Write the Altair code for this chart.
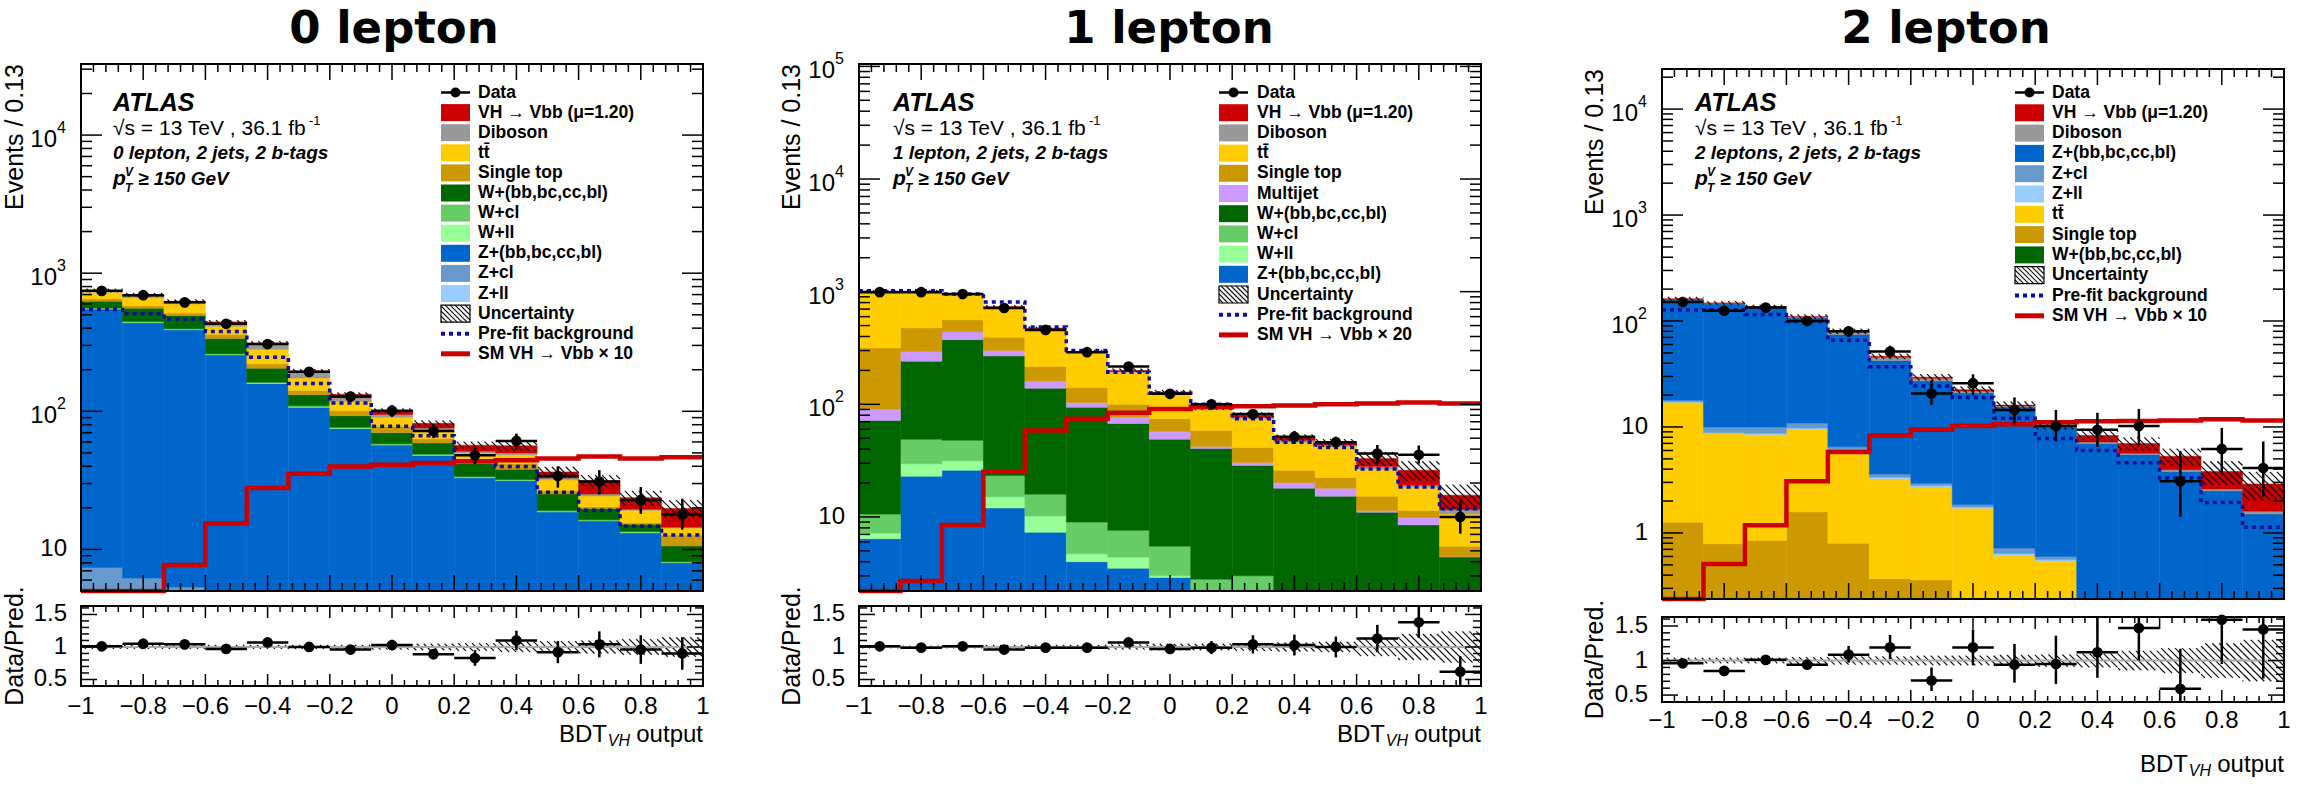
import math
import altair as alt
import pandas as pd

FONT = "Liberation Sans"
TITLE_FONT = "DejaVu Sans"
NB = 15
BIN_EDGES = [-1 + 2 * k / NB for k in range(NB + 1)]
BIN_CENTERS = [(BIN_EDGES[i] + BIN_EDGES[i + 1]) / 2 for i in range(NB)]

XTICK_VALUES = [-1, -0.8, -0.6, -0.4, -0.2, 0, 0.2, 0.4, 0.6, 0.8, 1]
XTICK_LABELS = ["\u22121", "\u22120.8", "\u22120.6", "\u22120.4", "\u22120.2", "0", "0.2", "0.4", "0.6", "0.8", "1"]
XTICK_MINOR = [round(-1 + 0.04 * k, 4) for k in range(51) if k % 5 != 0]
RATIO_TICKS = [0.5, 1, 1.5]
RATIO_LABELS = ["0.5", "1", "1.5"]
RATIO_MINOR = [0.6, 0.7, 0.8, 0.9, 1.1, 1.2, 1.3, 1.4, 1.6]
RMIN, RMAX = 0.4, 1.63

COLORS = {
    "VH": "#cc0000", "Diboson": "#999999", "ttbar": "#ffcc00", "Single top": "#cc9900",
    "Multijet": "#cc99ff", "Whf": "#006600", "Wcl": "#66cc66", "Wll": "#99ff99",
    "Zhf": "#0066cc", "Zcl": "#6699cc", "Zll": "#99ccff",
}
LABELS = {
    "VH": "VH \u2192 Vbb (\u03bc=1.20)", "Diboson": "Diboson", "ttbar": "tt\u0304",
    "Single top": "Single top", "Multijet": "Multijet", "Whf": "W+(bb,bc,cc,bl)",
    "Wcl": "W+cl", "Wll": "W+ll", "Zhf": "Z+(bb,bc,cc,bl)", "Zcl": "Z+cl", "Zll": "Z+ll",
}
NAVY = "#0d0d9e"
RED = "#cc0000"

# ---------------- 0 lepton (cumulative stack tops, bottom -> top) ----------------
L0_ZLL = [1.2, 1.1, 1.0, 0.9, 0.8, 0.7, 0.6, 0.5, 0.5, 0.4, 0.4, 0.3, 0.3, 0.2, 0.2]
L0_ZCL = [7.4, 6.2, 5.35, 4.5, 4.0, 3.5, 3.0, 2.5, 2.0, 1.8, 1.6, 1.4, 1.2, 1.1, 1.0]
L0_ZHF = [550, 438, 389, 256, 159, 107, 75, 57, 48, 33, 31.5, 18.7, 16.1, 13.2, 8.0]
L0_WLL = [554, 441, 392, 258, 160, 108, 75.6, 57.4, 48.3, 33.2, 31.7, 18.8, 16.2, 13.3, 8.05]
L0_WCL = [560, 446, 396, 261, 162.5, 109.5, 76.6, 58.2, 49, 33.7, 32.1, 19.1, 16.4, 13.5, 8.15]
L0_WHF = [627, 557, 494, 336, 205, 132, 93, 70, 59, 41.8, 38, 25.2, 19.8, 15.2, 10.6]
L0_STOP = [653, 580, 515, 362, 221, 141.5, 100.7, 78, 63.3, 44.3, 41.8, 26.7, 20.4, 15.6, 12.7]
L0_TTBAR = [728, 665, 601, 413, 281, 174, 118, 90.6, 71.3, 49.9, 48.5, 31.9, 24.4, 19.2, 14.3]
L0_DIBOSON = [741, 686, 616, 431, 307, 190.5, 125.6, 94.9, 75.7, 51.4, 49.9, 32.9, 25.2, 19.5, 14.5]
L0_VH = [750, 698, 627, 444, 312, 196, 133, 101, 81.8, 56.9, 56.2, 36.4, 31.4, 23.7, 19.8]
L0_PREFIT = [547, 509, 466, 378, 246, 159, 115, 78, 66.4, 43.7, 39.8, 25.9, 19.2, 14.7, 12.7]
L0_SMVH = [5.0, 5.0, 7.7, 15.4, 27.8, 35.3, 39.8, 41, 42.3, 43.5, 44.3, 45.6, 47, 45.6, 46.4]
L0_DATA = [745, 693, 615, 430, 307, 193, 128, 101, 72, 48, 61, 34, 31, 22.8, 17.9]
L0_DATA_LO = [718, 667, 590, 409, 290, 179, 117, 91, 64, 41.5, 53, 28, 25, 18.1, 13.9]
L0_DATA_HI = [772, 719, 640, 451, 324, 207, 139, 111, 80.5, 55, 69, 40, 37.5, 28.3, 23.3]
L0_RATIO = [1.01, 1.05, 1.04, 0.97, 1.07, 1.0, 0.96, 1.03, 0.89, 0.83, 1.10, 0.92, 1.04, 0.96, 0.90]
L0_RATIO_ERR = [0.03, 0.03, 0.03, 0.04, 0.05, 0.06, 0.07, 0.08, 0.08, 0.12, 0.15, 0.17, 0.2, 0.22, 0.25]
L0_UNC = [0.03, 0.03, 0.03, 0.03, 0.03, 0.03, 0.03, 0.04, 0.05, 0.06, 0.08, 0.09, 0.1, 0.12, 0.15]

# ---------------- 1 lepton ----------------
L1_ZHF = [6.4, 23, 26, 12, 7.3, 4.0, 3.5, 2.9, 2.0, 1.5, 1.2, 1.0, 0.8, 0.6, 0.5]
L1_WLL = [7.2, 29.7, 31.5, 15.1, 10.2, 4.7, 4.4, 3.0, 2.1, 1.6, 1.3, 1.1, 0.9, 0.7, 0.6]
L1_WCL = [10.6, 49, 47.9, 23.3, 15.9, 9.0, 7.6, 5.5, 2.8, 3.0, 1.5, 1.3, 1.1, 0.9, 0.8]
L1_WHF = [71.8, 241, 375, 269, 139, 94, 67.6, 49, 40.5, 28.6, 18, 15.3, 11, 8.5, 4.4]
L1_MULTIJET = [90.8, 294, 441, 301, 161, 104, 77, 57.5, 42.3, 30.4, 20.2, 18, 11.4, 9.9, 4.45]
L1_STOP = [316, 477, 561, 394, 216, 141, 100, 74.5, 58.4, 41.3, 26, 22.4, 15.3, 11.4, 5.5]
L1_TTBAR = [1000, 1000, 935, 726, 467, 290, 193, 124, 89.3, 74.5, 46.1, 42.3, 26.6, 18.4, 10.6]
L1_DIBOSON = [1005, 1005, 940, 730, 470, 292, 196, 126, 91, 77, 48, 43.5, 28, 19.2, 11.6]
L1_VH = [1010, 1010, 945, 735, 475, 295, 200, 128, 94, 80, 50.4, 45.5, 33.1, 26, 15.6]
L1_PREFIT = [1020, 1020, 953, 811, 485, 301, 193, 126, 100, 74.5, 46.1, 41.3, 26.6, 18.4, 11.8]
L1_SMVH = [2.2, 2.7, 8.5, 25.2, 58.4, 74.5, 84.3, 90.8, 94.9, 96.2, 97.6, 100, 101.6, 104, 101.6]
L1_DATA = [989, 989, 953, 716, 457, 290, 216, 124, 100, 81.8, 51.5, 46.1, 36.5, 35.6, 10.0]
L1_DATA_LO = [958, 958, 922, 690, 436, 273, 201, 113, 90, 73, 44.5, 40.5, 29.7, 29.7, 7.1]
L1_DATA_HI = [1020, 1020, 984, 743, 479, 307, 231, 135, 110, 91, 58, 51.5, 43.5, 43, 14.4]
L1_RATIO = [1.01, 0.99, 1.01, 0.96, 0.99, 0.99, 1.07, 0.97, 0.99, 1.04, 1.03, 1.0, 1.13, 1.38, 0.62]
L1_RATIO_ERR = [0.03, 0.03, 0.03, 0.03, 0.04, 0.05, 0.07, 0.07, 0.1, 0.14, 0.16, 0.16, 0.21, 0.24, 0.24]
L1_UNC = [0.02, 0.02, 0.02, 0.03, 0.03, 0.03, 0.04, 0.05, 0.05, 0.06, 0.07, 0.08, 0.14, 0.2, 0.24]

# ---------------- 2 lepton ----------------
L2_WHF = [0.02, 0.02, 0.02, 0.02, 0.02, 0.02, 0.02, 0.02, 0.02, 0.02, 0.02, 0.02, 0.02, 0.02, 0.02]
L2_STOP = [1.26, 0.79, 0.85, 1.58, 0.8, 0.37, 0.36, 0.2, 0.15, 0.1, 0.05, 0.05, 0.04, 0.03, 0.025]
L2_TTBAR = [17.1, 8.65, 8.5, 9.55, 5.6, 3.25, 2.7, 1.71, 0.61, 0.54, 0.1, 0.1, 0.06, 0.05, 0.04]
L2_ZLL = [17.3, 8.8, 8.7, 9.8, 5.8, 3.35, 2.8, 1.76, 0.64, 0.56, 0.12, 0.12, 0.08, 0.06, 0.05]
L2_ZCL = [17.9, 10, 10, 10.9, 6.5, 3.6, 2.94, 1.86, 0.72, 0.6, 0.15, 0.15, 0.1, 0.08, 0.06]
L2_ZHF = [158, 145, 134, 107, 74.8, 42.5, 27.2, 21, 15.5, 10, 7.0, 5.5, 3.8, 2.5, 1.51]
L2_DIBOSON = [160, 147, 136, 109, 79, 45.5, 28.8, 21.8, 15.8, 10.2, 7.2, 5.65, 3.95, 2.6, 1.6]
L2_VH = [162, 148, 137, 110, 80, 46.5, 29.5, 22.5, 16.1, 10.4, 8.3, 7.0, 5.3, 3.8, 2.9]
L2_PREFIT = [127, 128, 115, 99, 66, 37, 24.4, 19, 12.1, 7.8, 6.0, 4.6, 3.3, 1.94, 1.13]
L2_SMVH = [0.238, 0.51, 1.18, 3.07, 5.8, 8.3, 9.4, 10.2, 10.6, 11.1, 11.3, 11.4, 11.5, 11.8, 11.5]
L2_DATA = [151, 125, 134, 100, 80, 51.5, 20.7, 25.9, 14.5, 10.2, 9.4, 10.2, 3.07, 6.2, 4.1]
L2_DATA_LO = [139, 114, 122.5, 90, 71, 44.5, 16.1, 19.8, 10.6, 7.3, 6.5, 6.7, 1.42, 3.6, 2.2]
L2_DATA_HI = [163, 136, 145.5, 110, 89, 58.5, 27.5, 31.4, 19, 14.5, 13.6, 14.8, 5.9, 9.8, 7.3]
L2_RATIO = [0.96, 0.85, 1.01, 0.94, 1.085, 1.19, 0.71, 1.19, 0.94, 0.95, 1.12, 1.47, 0.59, 1.59, 1.45]
L2_RATIO_LO = [0.92, 0.81, 0.97, 0.89, 0.97, 1.02, 0.56, 0.93, 0.68, 0.66, 0.75, 1.0, 0.3, 0.95, 0.74]
L2_RATIO_HI = [1.01, 0.89, 1.06, 0.99, 1.21, 1.37, 0.90, 1.45, 1.24, 1.36, 1.65, 1.75, 1.17, 1.9, 1.67]
L2_UNC = [0.04, 0.04, 0.04, 0.05, 0.06, 0.06, 0.07, 0.07, 0.08, 0.09, 0.1, 0.14, 0.18, 0.25, 0.3]

PW = 622
ONE = pd.DataFrame({"a": [0]})

CFGS = [
    dict(
        title="0 lepton", title_cx=394, chan="0 lepton, 2 jets, 2 b-tags",
        ox=81, oy=64, H=527, ry=606, h=80, lab_dy=21, xt_dy=49, ytitle_dx=-78,
        ymin=5.0, ymax=3.27e4,
        stack=[("Zll", L0_ZLL), ("Zcl", L0_ZCL), ("Zhf", L0_ZHF), ("Wll", L0_WLL), ("Wcl", L0_WCL),
               ("Whf", L0_WHF), ("Single top", L0_STOP), ("ttbar", L0_TTBAR), ("Diboson", L0_DIBOSON), ("VH", L0_VH)],
        prefit=L0_PREFIT, smvh=L0_SMVH, data=L0_DATA, data_lo=L0_DATA_LO, data_hi=L0_DATA_HI,
        ratio=L0_RATIO, ratio_lo=[r - e for r, e in zip(L0_RATIO, L0_RATIO_ERR)],
        ratio_hi=[r + e for r, e in zip(L0_RATIO, L0_RATIO_ERR)], unc=L0_UNC,
        legend=[("data", "Data"), ("box", "VH"), ("box", "Diboson"), ("box", "ttbar"), ("box", "Single top"),
                ("box", "Whf"), ("box", "Wcl"), ("box", "Wll"), ("box", "Zhf"), ("box", "Zcl"), ("box", "Zll"),
                ("hatch", "Uncertainty"), ("dotted", "Pre-fit background"), ("line", "SM VH \u2192 Vbb \u00d7 10")],
        leg=(360, 389, 397, 28.5, 20.1), tx=32, ty=(39, 65, 89, 115),
    ),
    dict(
        title="1 lepton", title_cx=1169, chan="1 lepton, 2 jets, 2 b-tags",
        ox=859, oy=64, H=527, ry=606, h=80, lab_dy=21, xt_dy=49, ytitle_dx=-79,
        ymin=2.2, ymax=1.05e5,
        stack=[("Zhf", L1_ZHF), ("Wll", L1_WLL), ("Wcl", L1_WCL), ("Whf", L1_WHF), ("Multijet", L1_MULTIJET),
               ("Single top", L1_STOP), ("ttbar", L1_TTBAR), ("Diboson", L1_DIBOSON), ("VH", L1_VH)],
        prefit=L1_PREFIT, smvh=L1_SMVH, data=L1_DATA, data_lo=L1_DATA_LO, data_hi=L1_DATA_HI,
        ratio=L1_RATIO, ratio_lo=[r - e for r, e in zip(L1_RATIO, L1_RATIO_ERR)],
        ratio_hi=[r + e for r, e in zip(L1_RATIO, L1_RATIO_ERR)], unc=L1_UNC,
        legend=[("data", "Data"), ("box", "VH"), ("box", "Diboson"), ("box", "ttbar"), ("box", "Single top"),
                ("box", "Multijet"), ("box", "Whf"), ("box", "Wcl"), ("box", "Wll"), ("box", "Zhf"),
                ("hatch", "Uncertainty"), ("dotted", "Pre-fit background"), ("line", "SM VH \u2192 Vbb \u00d7 20")],
        leg=(360, 389, 398, 28.5, 20.2), tx=34, ty=(39, 65, 89, 115),
    ),
    dict(
        title="2 lepton", title_cx=1946, chan="2 leptons, 2 jets, 2 b-tags",
        ox=1662, oy=69, H=530, ry=617, h=85, lab_dy=19, xt_dy=63, ytitle_dx=-79,
        ymin=0.238, ymax=2.39e4,
        stack=[("Whf", L2_WHF), ("Single top", L2_STOP), ("ttbar", L2_TTBAR), ("Zll", L2_ZLL), ("Zcl", L2_ZCL),
               ("Zhf", L2_ZHF), ("Diboson", L2_DIBOSON), ("VH", L2_VH)],
        prefit=L2_PREFIT, smvh=L2_SMVH, data=L2_DATA, data_lo=L2_DATA_LO, data_hi=L2_DATA_HI,
        ratio=L2_RATIO, ratio_lo=L2_RATIO_LO, ratio_hi=L2_RATIO_HI, unc=L2_UNC,
        legend=[("data", "Data"), ("box", "VH"), ("box", "Diboson"), ("box", "Zhf"), ("box", "Zcl"), ("box", "Zll"),
                ("box", "ttbar"), ("box", "Single top"), ("box", "Whf"),
                ("hatch", "Uncertainty"), ("dotted", "Pre-fit background"), ("line", "SM VH \u2192 Vbb \u00d7 10")],
        leg=(353, 382, 390, 23.5, 20.3), tx=33, ty=(34, 60, 84, 110),
    ),
]


def hatch(rects, W, H, xd, yd, log, sp=7.0):
    """Diagonal hatch segments (in data units) covering data-space rectangles."""
    X0, X1 = xd
    f = math.log10 if log else (lambda v: v)
    Y0, Y1 = f(yd[0]), f(yd[1])

    def tpx(x):
        return (x - X0) / (X1 - X0) * W

    def tpy(y):
        if log and y <= 0:
            return -10.0
        return (f(y) - Y0) / (Y1 - Y0) * H

    def ix(p):
        return X0 + p / W * (X1 - X0)

    def iy(p):
        v = Y0 + p / H * (Y1 - Y0)
        return 10 ** v if log else v

    segs = []
    for x0, x1, y0, y1 in rects:
        a0, a1 = tpx(x0), tpx(x1)
        b0, b1 = max(tpy(y0), 0.0), min(tpy(y1), H)
        if b1 <= b0:
            continue
        c = math.ceil((a0 + b0) / sp) * sp
        while c <= a1 + b1:
            pa = max(a0, c - b1)
            pb = min(a1, c - b0)
            if pb > pa:
                segs.append(dict(sx=ix(pa), sy=iy(c - pa), ex=ix(pb), ey=iy(c - pb)))
            c += sp
    return pd.DataFrame(segs)


def text_layer(rows, **props):
    df = pd.DataFrame(rows)
    base = dict(font=FONT)
    base.update(props)
    return alt.Chart(df).mark_text(**base).encode(
        x=alt.X("px:Q", scale=None, axis=None),
        y=alt.Y("py:Q", scale=None, axis=None),
        text="t:N",
    )


def log_ticks(lo, hi):
    maj, mnr = [], []
    for d in range(math.floor(math.log10(lo)) - 1, math.ceil(math.log10(hi)) + 1):
        for m in range(1, 10):
            v = m * 10 ** d
            if lo < v < hi:
                (maj if m == 1 else mnr).append(v)
    return maj, mnr


def tick_layers(X, Y, x0, y0, W, H, ymaj, ymnr, xl, yl):
    out = []
    for vals, ln in ((XTICK_VALUES, xl[0]), (XTICK_MINOR, xl[1])):
        df = pd.DataFrame({"v": vals})
        out.append(alt.Chart(df).mark_rule(color="black", strokeWidth=1.5).encode(
            x=X("v:Q"), y=alt.value(y0 + H), y2=alt.value(y0 + H - ln)))
        out.append(alt.Chart(df).mark_rule(color="black", strokeWidth=1.5).encode(
            x=X("v:Q"), y=alt.value(y0), y2=alt.value(y0 + ln)))
    for vals, ln in ((ymaj, yl[0]), (ymnr, yl[1])):
        df = pd.DataFrame({"v": vals})
        out.append(alt.Chart(df).mark_rule(color="black", strokeWidth=1.5).encode(
            y=Y("v:Q"), x=alt.value(x0), x2=alt.value(x0 + ln)))
        out.append(alt.Chart(df).mark_rule(color="black", strokeWidth=1.5).encode(
            y=Y("v:Q"), x=alt.value(x0 + W), x2=alt.value(x0 + W - ln)))
    return out


def frame(x0, y0, W, H):
    return alt.Chart(ONE).mark_rect(fillOpacity=0, stroke="black", strokeWidth=2).encode(
        x=alt.value(x0), x2=alt.value(x0 + W), y=alt.value(y0), y2=alt.value(y0 + H))


def data_layers(X, Y, v, lo, hi, size=115):
    df = pd.DataFrame({"xc": BIN_CENTERS, "x0": BIN_EDGES[:-1], "x1": BIN_EDGES[1:],
                       "v": v, "lo": lo, "hi": hi})
    return [
        alt.Chart(df).mark_rule(color="black", strokeWidth=2.5).encode(
            x=X("xc:Q"), y=Y("lo:Q"), y2="hi:Q"),
        alt.Chart(df).mark_rule(color="black", strokeWidth=2.5).encode(
            x=X("x0:Q"), x2="x1:Q", y=Y("v:Q")),
        alt.Chart(df).mark_circle(color="black", opacity=1, size=size).encode(
            x=X("xc:Q"), y=Y("v:Q")),
    ]


def legend_layers(cfg):
    ox, oy = cfg["ox"], cfg["oy"]
    sx0, sx1, tx, y0, dy = cfg["leg"]
    sx0 += ox
    sx1 += ox
    tx += ox
    bh = 8.5
    boxes, texts, lines_data, lines_dot, lines_red, hatch_box, hsegs = [], [], [], [], [], [], []
    for i, (kind, key) in enumerate(cfg["legend"]):
        yc = oy + y0 + dy * i
        texts.append(dict(px=tx, py=yc, t=LABELS.get(key, key)))
        if kind == "box":
            boxes.append(dict(x0=sx0, x1=sx1, y0=yc - bh, y1=yc + bh, c=COLORS[key]))
        elif kind == "data":
            lines_data.append(dict(x0=sx0, x1=sx1, y0=yc, xc=(sx0 + sx1) / 2))
        elif kind == "dotted":
            lines_dot.append(dict(x0=sx0, x1=sx1, y0=yc))
        elif kind == "line":
            lines_red.append(dict(x0=sx0, x1=sx1, y0=yc))
        elif kind == "hatch":
            hatch_box.append(dict(x0=sx0, x1=sx1, y0=yc - bh, y1=yc + bh))
            a0, a1, b0, b1 = sx0, sx1, yc - bh, yc + bh
            c = math.floor((b0 - a1) / 5.0) * 5.0
            while c <= b1 - a0:
                pa = max(a0, b0 - c)
                pb = min(a1, b1 - c)
                if pb > pa:
                    hsegs.append(dict(x0=pa, y0=pa + c, x1=pb, y1=pb + c))
                c += 5.0
    PX = lambda f: alt.X(f, scale=None, axis=None)
    PY = lambda f: alt.Y(f, scale=None, axis=None)
    return [
        alt.Chart(pd.DataFrame(boxes)).mark_rect().encode(
            x=PX("x0:Q"), x2="x1:Q", y=PY("y0:Q"), y2="y1:Q", color=alt.Color("c:N", scale=None)),
        alt.Chart(pd.DataFrame(hsegs)).mark_rule(color="#111111", strokeWidth=1.1).encode(
            x=PX("x0:Q"), x2="x1:Q", y=PY("y0:Q"), y2="y1:Q"),
        alt.Chart(pd.DataFrame(hatch_box)).mark_rect(fillOpacity=0, stroke="black", strokeWidth=1.2).encode(
            x=PX("x0:Q"), x2="x1:Q", y=PY("y0:Q"), y2="y1:Q"),
        alt.Chart(pd.DataFrame(lines_data)).mark_rule(color="black", strokeWidth=2.5).encode(
            x=PX("x0:Q"), x2="x1:Q", y=PY("y0:Q")),
        alt.Chart(pd.DataFrame(lines_data)).mark_circle(color="black", opacity=1, size=100).encode(
            x=PX("xc:Q"), y=PY("y0:Q")),
        alt.Chart(pd.DataFrame(lines_dot)).mark_rule(color=NAVY, strokeWidth=4, strokeDash=[4, 4]).encode(
            x=PX("x0:Q"), x2="x1:Q", y=PY("y0:Q")),
        alt.Chart(pd.DataFrame(lines_red)).mark_rule(color=RED, strokeWidth=5).encode(
            x=PX("x0:Q"), x2="x1:Q", y=PY("y0:Q")),
        text_layer(texts, fontSize=17.5, fontWeight="bold", align="left", baseline="middle"),
    ]


def main_layers(cfg):
    W, H, ox, oy = PW, cfg["H"], cfg["ox"], cfg["oy"]
    ymin, ymax = cfg["ymin"], cfg["ymax"]
    xs = alt.Scale(domain=[-1, 1], range=[ox, ox + W], nice=False, zero=False, clamp=True)
    ys = alt.Scale(type="log", domain=[ymin, ymax], range=[oy + H, oy], nice=False, clamp=True)
    X = lambda f: alt.X(f, scale=xs, axis=None)
    Y = lambda f: alt.Y(f, scale=ys, axis=None)
    layers = []
    rows, keys = [], []
    prev = [ymin * 1e-3] * NB
    for key, tops in cfg["stack"]:
        keys.append(key)
        cur = [max(t, p) for t, p in zip(tops, prev)]
        for i in range(NB):
            rows.append(dict(comp=key, x0=BIN_EDGES[i], x1=BIN_EDGES[i + 1], lo=prev[i], hi=cur[i]))
        prev = cur
    cs = alt.Scale(domain=keys, range=[COLORS[k] for k in keys])
    layers.append(alt.Chart(pd.DataFrame(rows)).mark_rect(strokeWidth=0.5).encode(
        x=X("x0:Q"), x2="x1:Q", y=Y("hi:Q"), y2="lo:Q",
        color=alt.Color("comp:N", scale=cs, legend=None),
        stroke=alt.Stroke("comp:N", scale=cs, legend=None)))
    tot = cfg["stack"][-1][1]
    rects = [(BIN_EDGES[i], BIN_EDGES[i + 1], tot[i] * (1 - u), tot[i] * (1 + u)) for i, u in enumerate(cfg["unc"])]
    layers.append(alt.Chart(hatch(rects, W, H, (-1, 1), (ymin, ymax), True)).mark_rule(
        color="#111111", strokeWidth=1.2).encode(x=X("sx:Q"), x2="ex:Q", y=Y("sy:Q"), y2="ey:Q"))

    def step_df(vals):
        return pd.DataFrame({"x": BIN_EDGES, "y": list(vals) + [vals[-1]]})

    layers.append(alt.Chart(step_df(cfg["prefit"])).mark_line(
        interpolate="step-after", color=NAVY, strokeWidth=3.5, strokeDash=[4, 4]).encode(
        x=X("x:Q"), y=Y("y:Q")))
    layers.append(alt.Chart(step_df(cfg["smvh"])).mark_line(
        interpolate="step-after", color=RED, strokeWidth=4.5).encode(
        x=X("x:Q"), y=Y("y:Q")))
    layers += data_layers(X, Y, cfg["data"], cfg["data_lo"], cfg["data_hi"])
    ymaj, ymnr = log_ticks(ymin, ymax)
    layers += tick_layers(X, Y, ox, oy, W, H, ymaj, ymnr, (16, 8), (21, 11))
    plain, base, sup = [], [], []
    for v in ymaj:
        e = round(math.log10(v))
        if e <= 1:
            plain.append(dict(v=v, t=str(int(round(v)))))
        else:
            base.append(dict(v=v, t="10"))
            sup.append(dict(v=v, t=str(e)))
    if plain:
        layers.append(alt.Chart(pd.DataFrame(plain)).mark_text(
            font=FONT, fontSize=24, align="right", baseline="middle").encode(
            x=alt.value(ox - 14), y=Y("v:Q"), text="t:N"))
    layers.append(alt.Chart(pd.DataFrame(base)).mark_text(
        font=FONT, fontSize=24, align="right", baseline="middle", dy=5).encode(
        x=alt.value(ox - 24), y=Y("v:Q"), text="t:N"))
    layers.append(alt.Chart(pd.DataFrame(sup)).mark_text(
        font=FONT, fontSize=16, align="left", baseline="middle", dy=-7).encode(
        x=alt.value(ox - 24), y=Y("v:Q"), text="t:N"))
    layers.append(text_layer([dict(px=ox + cfg["ytitle_dx"], py=oy, t="Events / 0.13")], fontSize=25,
                             angle=270, align="right", baseline="top"))
    layers.append(text_layer([dict(px=cfg["title_cx"], py=43, t=cfg["title"])], font=TITLE_FONT,
                             fontSize=45, fontWeight="bold", align="center", baseline="alphabetic"))
    tx = ox + cfg["tx"]
    t1, t2, t3, t4 = (oy + v for v in cfg["ty"])
    layers.append(text_layer([dict(px=tx, py=t1, t="ATLAS")], fontSize=25, fontWeight="bold",
                             fontStyle="italic", align="left", baseline="middle"))
    layers.append(text_layer([dict(px=tx, py=t2, t="\u221as = 13 TeV , 36.1 fb")], fontSize=21,
                             align="left", baseline="middle"))
    layers.append(text_layer([dict(px=tx + 196, py=t2 - 8, t="-1")], fontSize=13,
                             align="left", baseline="middle"))
    layers.append(text_layer([dict(px=tx, py=t3, t=cfg["chan"])], fontSize=19, fontWeight="bold",
                             fontStyle="italic", align="left", baseline="middle"))
    layers.append(text_layer([dict(px=tx, py=t4, t="p")], fontSize=21, fontWeight="bold",
                             fontStyle="italic", align="left", baseline="middle"))
    layers.append(text_layer([dict(px=tx + 12, py=t4 - 7, t="V"), dict(px=tx + 12, py=t4 + 9, t="T")],
                             fontSize=12, fontWeight="bold", fontStyle="italic", align="left", baseline="middle"))
    layers.append(text_layer([dict(px=tx + 25, py=t4, t="\u2265 150 GeV")], fontSize=19, fontWeight="bold",
                             fontStyle="italic", align="left", baseline="middle"))
    layers += legend_layers(cfg)
    layers.append(frame(ox, oy, W, H))
    return layers


def ratio_layers(cfg):
    W, h, ox, ry = PW, cfg["h"], cfg["ox"], cfg["ry"]
    xs = alt.Scale(domain=[-1, 1], range=[ox, ox + W], nice=False, zero=False, clamp=True)
    rs = alt.Scale(domain=[RMIN, RMAX], range=[ry + h, ry], nice=False, zero=False, clamp=True)
    X = lambda f: alt.X(f, scale=xs, axis=None)
    Y = lambda f: alt.Y(f, scale=rs, axis=None)
    layers = []
    rects = [(BIN_EDGES[i], BIN_EDGES[i + 1], 1 - u, 1 + u) for i, u in enumerate(cfg["unc"])]
    layers.append(alt.Chart(hatch(rects, W, h, (-1, 1), (RMIN, RMAX), False)).mark_rule(
        color="#111111", strokeWidth=1.2).encode(x=X("sx:Q"), x2="ex:Q", y=Y("sy:Q"), y2="ey:Q"))
    layers.append(alt.Chart(pd.DataFrame({"v": [1.0]})).mark_rule(color="#aaaaaa", strokeWidth=2).encode(
        y=Y("v:Q"), x=alt.value(ox), x2=alt.value(ox + W)))
    layers += data_layers(X, Y, cfg["ratio"], cfg["ratio_lo"], cfg["ratio_hi"])
    layers += tick_layers(X, Y, ox, ry, W, h, RATIO_TICKS, RATIO_MINOR, (12, 6), (16, 8))
    layers.append(alt.Chart(pd.DataFrame({"v": RATIO_TICKS, "t": RATIO_LABELS})).mark_text(
        font=FONT, fontSize=24, align="right", baseline="middle").encode(
        x=alt.value(ox - 14), y=Y("v:Q"), text="t:N"))
    layers.append(alt.Chart(pd.DataFrame({"v": XTICK_VALUES, "t": XTICK_LABELS})).mark_text(
        font=FONT, fontSize=24, align="center", baseline="middle").encode(
        x=X("v:Q"), y=alt.value(ry + h + cfg["lab_dy"]), text="t:N"))
    layers.append(text_layer([dict(px=ox + cfg["ytitle_dx"], py=ry + h / 2, t="Data/Pred.")], fontSize=25,
                             angle=270, align="center", baseline="top"))
    yt = ry + h + cfg["xt_dy"]
    layers.append(text_layer([dict(px=ox + W, py=yt, t="output")], fontSize=24,
                             align="right", baseline="middle"))
    layers.append(text_layer([dict(px=ox + W - 73, py=yt + 6, t="VH")], fontSize=16, fontStyle="italic",
                             align="right", baseline="middle"))
    layers.append(text_layer([dict(px=ox + W - 96, py=yt, t="BDT")], fontSize=24,
                             align="right", baseline="middle"))
    layers.append(frame(ox, ry, W, h))
    return layers


all_layers = []
for cfg in CFGS:
    all_layers += main_layers(cfg)
    all_layers += ratio_layers(cfg)

chart = alt.layer(*all_layers).resolve_scale(
    x="independent", y="independent", color="independent", stroke="independent"
).properties(
    width=2304, height=786, padding=0, background="white",
    autosize=alt.AutoSizeParams(type="none"),
).configure_view(stroke="transparent")

chart.save("out.html", embed_options={"renderer": "svg", "actions": False})
